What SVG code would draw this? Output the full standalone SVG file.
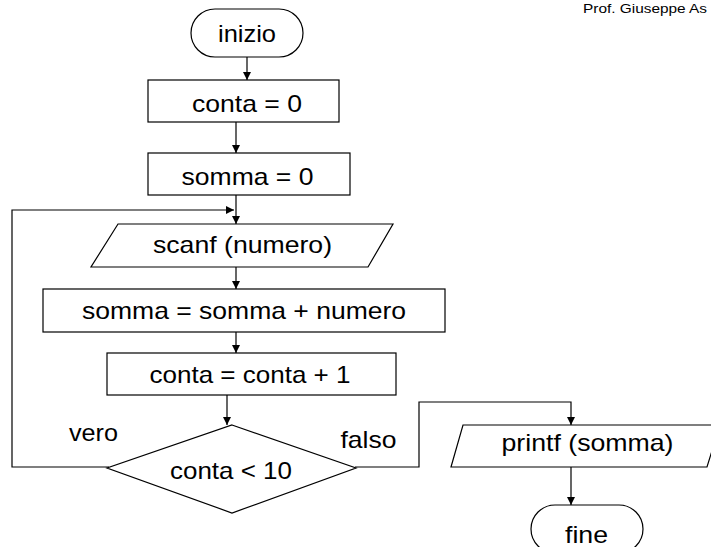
<svg xmlns="http://www.w3.org/2000/svg" width="711" height="547" viewBox="0 0 711 547">
<style>
.s{fill:#fff;stroke:#000;stroke-width:1.2}
.t{font-family:"Liberation Sans",Arial,sans-serif;font-size:24px;fill:#000;text-anchor:middle}
.c{fill:none;stroke:#000;stroke-width:1.2}
</style>
<defs>
<marker id="a" viewBox="0 0 10 10" refX="10" refY="5" markerWidth="8" markerHeight="8" markerUnits="userSpaceOnUse" orient="auto">
<path d="M0,0 L10,5 L0,10 Z" fill="#000"/>
</marker>
</defs>
<rect width="711" height="547" fill="#fff"/>
<text x="707" y="13" font-family="Liberation Sans,Arial,sans-serif" font-size="13" text-anchor="end" textLength="124" lengthAdjust="spacingAndGlyphs">Prof. Giuseppe As</text>
<g id="connectors">
<path class="c" d="M247,57 V80" marker-end="url(#a)"/>
<path class="c" d="M236,122 V153" marker-end="url(#a)"/>
<path class="c" d="M236,195 V224" marker-end="url(#a)"/>
<path class="c" d="M109,467 H12 V210 H234" marker-end="url(#a)"/>
<path class="c" d="M236,267 V289" marker-end="url(#a)"/>
<path class="c" d="M236,332 V353" marker-end="url(#a)"/>
<path class="c" d="M227,395 V425" marker-end="url(#a)"/>
<path class="c" d="M355,467 H419 V402 H571 V425" marker-end="url(#a)"/>
<path class="c" d="M571,467 V505" marker-end="url(#a)"/>
</g>
<g id="inizio">
<rect class="s" x="191" y="9" width="112" height="48" rx="24"/>
<text class="t" x="247" y="42" textLength="58" lengthAdjust="spacingAndGlyphs">inizio</text>
</g>
<g id="conta0">
<rect class="s" x="148" y="80" width="191" height="42"/>
<text class="t" x="247" y="112" textLength="110" lengthAdjust="spacingAndGlyphs">conta = 0</text>
</g>
<g id="somma0">
<rect class="s" x="148" y="153" width="202" height="42"/>
<text class="t" x="247.5" y="185" textLength="132" lengthAdjust="spacingAndGlyphs">somma = 0</text>
</g>
<g id="scanf">
<polygon class="s" points="118,224 393,224 368,267 91,267"/>
<text class="t" x="242.5" y="253" textLength="179" lengthAdjust="spacingAndGlyphs">scanf (numero)</text>
</g>
<g id="sommaAdd">
<rect class="s" x="43" y="289" width="402" height="43"/>
<text class="t" x="244" y="319" textLength="324" lengthAdjust="spacingAndGlyphs">somma = somma + numero</text>
</g>
<g id="contaInc">
<rect class="s" x="107" y="353" width="289" height="42"/>
<text class="t" x="250" y="383" textLength="201" lengthAdjust="spacingAndGlyphs">conta = conta + 1</text>
</g>
<g id="decisione">
<polygon class="s" points="232,425 356,468 232,513 107,468"/>
<text class="t" x="231" y="479" textLength="122" lengthAdjust="spacingAndGlyphs">conta &lt; 10</text>
</g>
<text class="t" x="93.5" y="441" textLength="49" lengthAdjust="spacingAndGlyphs">vero</text>
<text class="t" x="368.5" y="448" textLength="56" lengthAdjust="spacingAndGlyphs">falso</text>
<g id="printf">
<polygon class="s" points="463,425 720,425 707,467 451,467"/>
<text class="t" x="587.5" y="451" textLength="172" lengthAdjust="spacingAndGlyphs">printf (somma)</text>
</g>
<g id="fine">
<rect class="s" x="531" y="505" width="112" height="48" rx="24"/>
<text class="t" x="586.5" y="543" textLength="43" lengthAdjust="spacingAndGlyphs">fine</text>
</g>
</svg>
